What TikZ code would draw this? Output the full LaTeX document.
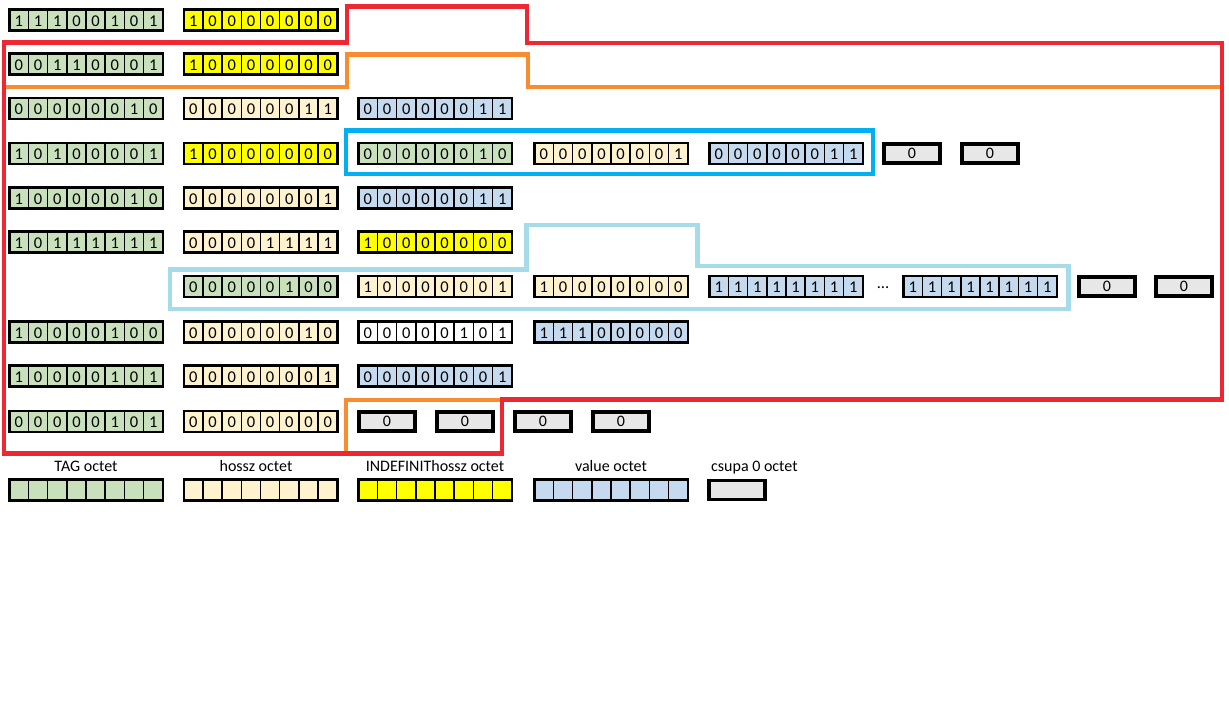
\documentclass[tikz,border=0pt]{standalone}
\usepackage{fontspec}
\setmainfont{Carlito}
\usetikzlibrary{calc}
\definecolor{cgreen}{RGB}{200,225,188}
\definecolor{ccream}{RGB}{255,242,206}
\definecolor{cyellow}{RGB}{255,255,0}
\definecolor{cblue}{RGB}{197,218,238}
\definecolor{cgray}{RGB}{231,231,231}
\definecolor{cred}{RGB}{238,40,50}
\definecolor{corange}{RGB}{247,140,49}
\definecolor{cdblue}{RGB}{0,176,240}
\definecolor{clblue}{RGB}{166,220,234}
\tikzset{
  octetbox/.style={draw=black, line width=2.6pt, minimum width=153.5pt, minimum height=21pt, inner sep=0pt, outer sep=0pt, anchor=west},
  zerobox/.style={draw=black, line width=3.8pt, fill=cgray, minimum width=56pt, minimum height=19pt, inner sep=0pt, outer sep=0pt, anchor=west, font=\fontsize{16}{16}\selectfont},
  bit/.style={inner sep=0pt, font=\fontsize{16.5}{16.5}\selectfont, anchor=base},
  divider/.style={line width=1.5pt},
  legendlabel/.style={inner sep=0pt, font=\fontsize{16}{16}\selectfont, anchor=base},
  redline/.style={draw=cred, line width=4.3pt},
  orangeline/.style={draw=corange, line width=4.3pt},
  dblueline/.style={draw=cdblue, line width=4.3pt},
  lblueline/.style={draw=clblue, line width=4.3pt}
}
\newcommand\octetrow[5]{%
  \node[octetbox, fill=#4] (#1) at (#2+1.3,#3) {};
  \foreach \b [count=\i] in {#5} {
    \node[bit] (#1-\i) at ($(#1.west)+(\i*19.1875-9.6,6.3)$) {\b};
  }
  \foreach \i in {1,...,7} {
    \draw[divider] ($(#1.north west)+(\i*19.1875,0)$) -- ($(#1.south west)+(\i*19.1875,0)$);
  }
}
\newcommand\emptyoctet[4]{%
  \node[octetbox, fill=#4] (#1) at (#2+1.3,#3) {};
  \foreach \i in {1,...,7} {
    \draw[divider] ($(#1.north west)+(\i*19.1875,0)$) -- ($(#1.south west)+(\i*19.1875,0)$);
  }
}
\newcommand\zerob[4]{\node[zerobox] (#1) at (#2+1.9,#3) {#4};}
\begin{document}
\begin{tikzpicture}[x=1pt,y=-1pt]
\path[use as bounding box] (0,0) rectangle (1229,720);
% outlines
\draw[orangeline] (4,87) -- (347,87) -- (347,54.5) -- (528,54.5) -- (528,87) -- (1222,87) -- (1222,400) -- (346,400) -- (346,453.5) -- (4,453.5) -- cycle;
\draw[redline] (4,42.5) -- (347,42.5) -- (347,6.5) -- (527,6.5) -- (527,43) -- (1222,43) -- (1222,399.5) -- (502,399.5) -- (502,453.5) -- (4,453.5) -- cycle;
\draw[dblueline] (346,130.5) rectangle (873,174);
\draw[lblueline] (170,269.5) -- (526.5,269.5) -- (526.5,224.7) -- (697.5,224.7) -- (697.5,266) -- (1068.5,266) -- (1068.5,309) -- (170,309) -- cycle;
% row 1
\octetrow{r1a}{8}{20}{cgreen}{1,1,1,0,0,1,0,1}
\octetrow{r1b}{182.5}{20}{cyellow}{1,0,0,0,0,0,0,0}
% row 2
\octetrow{r2a}{8}{64}{cgreen}{0,0,1,1,0,0,0,1}
\octetrow{r2b}{182.5}{64}{cyellow}{1,0,0,0,0,0,0,0}
% row 3
\octetrow{r3a}{8}{108.5}{cgreen}{0,0,0,0,0,0,1,0}
\octetrow{r3b}{182.5}{108.5}{ccream}{0,0,0,0,0,0,1,1}
\octetrow{r3c}{357}{108.5}{cblue}{0,0,0,0,0,0,1,1}
% row 4
\octetrow{r4a}{8}{153.3}{cgreen}{1,0,1,0,0,0,0,1}
\octetrow{r4b}{182.5}{153.3}{cyellow}{1,0,0,0,0,0,0,0}
\octetrow{r4c}{357}{153.3}{cgreen}{0,0,0,0,0,0,1,0}
\octetrow{r4d}{533}{153.3}{ccream}{0,0,0,0,0,0,0,1}
\octetrow{r4e}{708}{153.3}{cblue}{0,0,0,0,0,0,1,1}
\zerob{r4z1}{882}{153.3}{0}
\zerob{r4z2}{960}{153.3}{0}
% row 5
\octetrow{r5a}{8}{198}{cgreen}{1,0,0,0,0,0,1,0}
\octetrow{r5b}{182.5}{198}{ccream}{0,0,0,0,0,0,0,1}
\octetrow{r5c}{357}{198}{cblue}{0,0,0,0,0,0,1,1}
% row 6
\octetrow{r6a}{8}{242}{cgreen}{1,0,1,1,1,1,1,1}
\octetrow{r6b}{182.5}{242}{ccream}{0,0,0,0,1,1,1,1}
\octetrow{r6c}{357}{242}{cyellow}{1,0,0,0,0,0,0,0}
% row 7
\octetrow{r7b}{182.5}{286.5}{cgreen}{0,0,0,0,0,1,0,0}
\octetrow{r7c}{357}{286.5}{ccream}{1,0,0,0,0,0,0,1}
\octetrow{r7d}{533}{286.5}{ccream}{1,0,0,0,0,0,0,0}
\octetrow{r7e}{708}{286.5}{cblue}{1,1,1,1,1,1,1,1}
\node[bit, anchor=center] (dots) at (883,288) {…};
\octetrow{r7f}{902}{286.5}{cblue}{1,1,1,1,1,1,1,1}
\zerob{r7z1}{1077}{286.5}{0}
\zerob{r7z2}{1154}{286.5}{0}
% row 8
\octetrow{r8a}{8}{332}{cgreen}{1,0,0,0,0,1,0,0}
\octetrow{r8b}{182.5}{332}{ccream}{0,0,0,0,0,0,1,0}
\octetrow{r8c}{357}{332}{white}{0,0,0,0,0,1,0,1}
\octetrow{r8d}{533}{332}{cblue}{1,1,1,0,0,0,0,0}
% row 9
\octetrow{r9a}{8}{376}{cgreen}{1,0,0,0,0,1,0,1}
\octetrow{r9b}{182.5}{376}{ccream}{0,0,0,0,0,0,0,1}
\octetrow{r9c}{357}{376}{cblue}{0,0,0,0,0,0,0,1}
% row 10
\octetrow{r10a}{8}{421.5}{cgreen}{0,0,0,0,0,1,0,1}
\octetrow{r10b}{182.5}{421.5}{ccream}{0,0,0,0,0,0,0,0}
\zerob{r10z1}{357}{421.5}{0}
\zerob{r10z2}{435}{421.5}{0}
\zerob{r10z3}{513}{421.5}{0}
\zerob{r10z4}{591}{421.5}{0}
% legend
\emptyoctet{lg1}{8}{490}{cgreen}
\emptyoctet{lg2}{182.5}{490}{ccream}
\emptyoctet{lg3}{357}{490}{cyellow}
\emptyoctet{lg4}{533}{490}{cblue}
\zerob{lg5}{707}{490}{}
\node[legendlabel] (t1) at (86,471.5) {TAG octet};
\node[legendlabel] (t2) at (256,471.5) {hossz octet};
\node[legendlabel] (t3) at (435,471.5) {INDEFINIT{}hossz octet};
\node[legendlabel] (t4) at (611,471.5) {value octet};
\node[legendlabel, anchor=base west] (t5) at (711,471.5) {csupa 0 octet};
\end{tikzpicture}
\end{document}
